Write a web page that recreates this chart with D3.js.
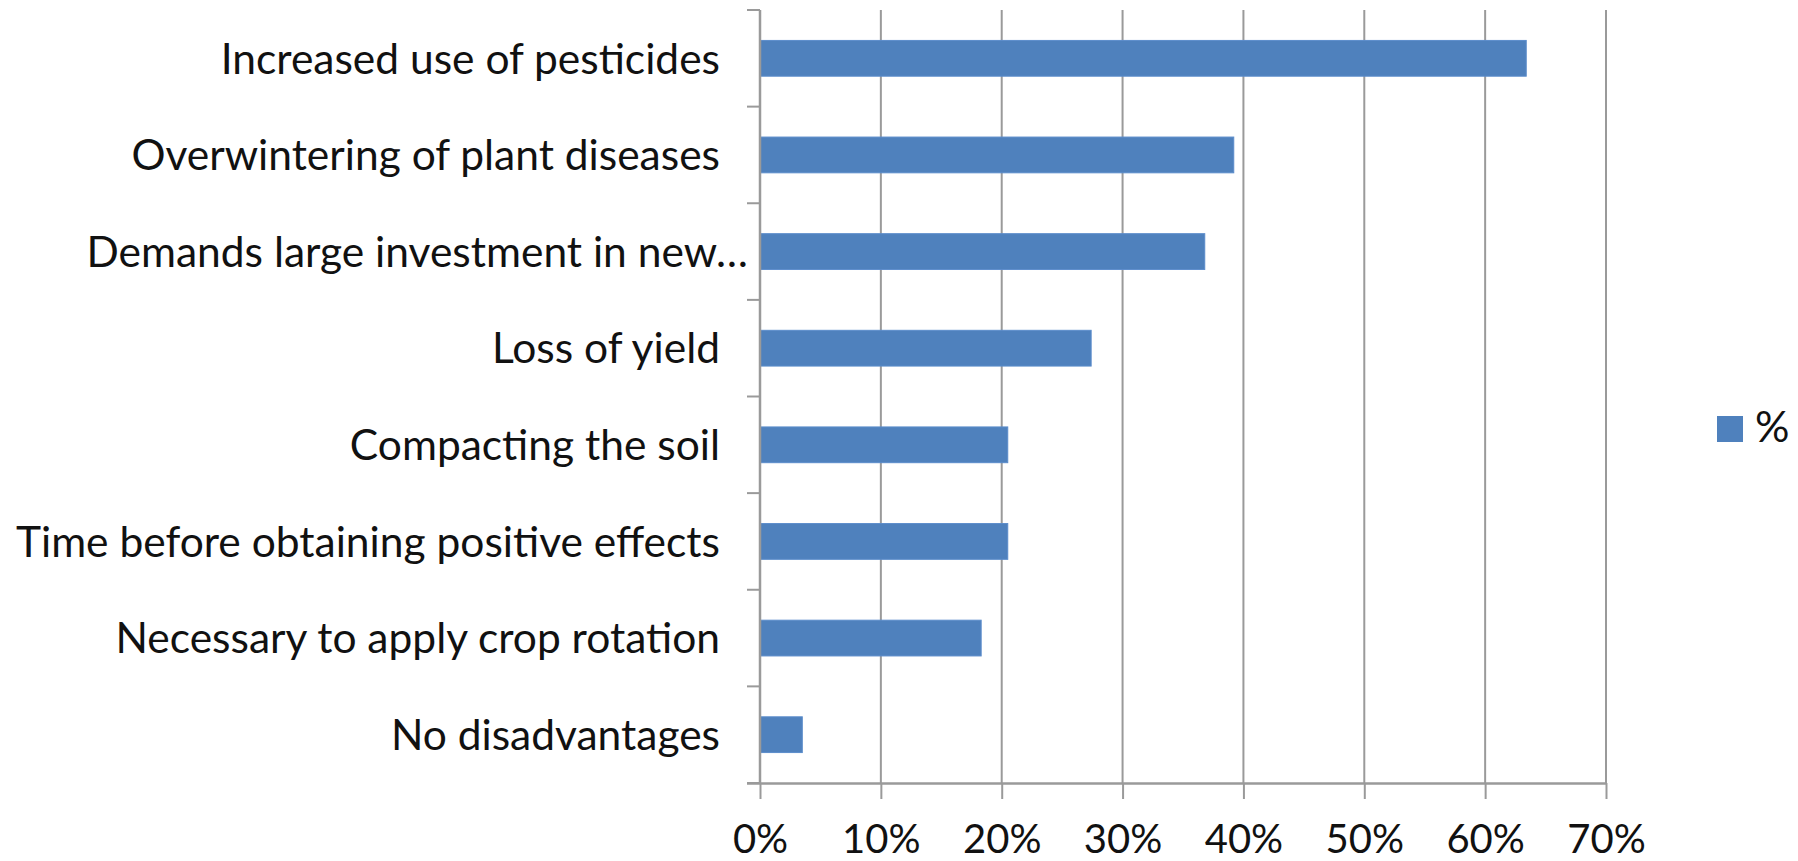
<!DOCTYPE html>
<html>
<head>
<meta charset="utf-8">
<script src="https://cdn.jsdelivr.net/npm/d3@7"></script>
<style>
  html, body { margin: 0; padding: 0; background: #fff; }
  svg { display: block; }
  text { font-family: Lato, "Open Sans", sans-serif; fill: #111; }
</style>
</head>
<body>
<svg id="chart" width="1798" height="861"></svg>
<script>
// Disadvantages reported, share of respondents
const categories = [
  "Increased use of pesticides",
  "Overwintering of plant diseases",
  "Demands large investment in new…",
  "Loss of yield",
  "Compacting the soil",
  "Time before obtaining positive effects",
  "Necessary to apply crop rotation",
  "No disadvantages"
];
const values = [63.4, 39.2, 36.8, 27.4, 20.5, 20.5, 18.3, 3.5];
const xTicks = [0, 10, 20, 30, 40, 50, 60, 70];
const seriesName = "%";

const barColor = "#4f81bd";
const gridColor = "#9a9a9a";

const svg = d3.select("#chart");
const plot = { left: 760, right: 1606, top: 10, bottom: 783 };

const x = d3.scaleLinear().domain([0, 70]).range([plot.left, plot.right]);
const y = d3.scaleBand().domain(categories).range([plot.top, plot.bottom])
  .paddingInner(0.63).paddingOuter(0.315);
const yEdges = d3.scaleLinear().domain([0, categories.length]).range([plot.top, plot.bottom]);

// vertical gridlines
svg.append("g").selectAll("line").data(xTicks.slice(1)).join("line")
  .attr("x1", d => x(d)).attr("x2", d => x(d))
  .attr("y1", plot.top).attr("y2", plot.bottom)
  .attr("stroke", gridColor).attr("stroke-width", 2);

// bars
svg.append("g").selectAll("rect").data(categories).join("rect")
  .attr("x", x(0))
  .attr("y", d => y(d))
  .attr("width", (d, i) => x(values[i]) - x(0))
  .attr("height", y.bandwidth())
  .attr("fill", barColor)
  .attr("stroke", "#5b8ccb").attr("stroke-width", 1);

// x axis
const xAxis = d3.axisBottom(x).tickValues(xTicks).tickFormat(d => d + "%")
  .tickSize(16).tickPadding(26);
const gx = svg.append("g").attr("transform", `translate(0,${plot.bottom})`).call(xAxis);
gx.select(".domain").attr("stroke", gridColor).attr("stroke-width", 2.5)
  .attr("d", `M${plot.left - 13},0.5H${plot.right}`);
gx.selectAll(".tick line").attr("stroke", gridColor).attr("stroke-width", 2);
gx.selectAll(".tick text").attr("font-size", 40).attr("font-family", "Lato, sans-serif")
  .attr("fill", "#111");

// y axis line and ticks at category boundaries
svg.append("line")
  .attr("x1", plot.left).attr("x2", plot.left)
  .attr("y1", plot.top).attr("y2", plot.bottom)
  .attr("stroke", gridColor).attr("stroke-width", 2.5);
svg.append("g").selectAll("line").data(d3.range(categories.length + 1)).join("line")
  .attr("x1", plot.left - 13).attr("x2", plot.left)
  .attr("y1", d => yEdges(d)).attr("y2", d => yEdges(d))
  .attr("stroke", gridColor).attr("stroke-width", 2);

// category labels
svg.append("g").selectAll("text").data(categories).join("text")
  .attr("x", d => d.endsWith("…") ? plot.left - 12 : plot.left - 40)
  .attr("y", d => y(d) + y.bandwidth() / 2)
  .attr("dy", "0.36em")
  .attr("text-anchor", "end")
  .attr("font-size", 42.5)
  .text(d => d);

// legend
const legend = svg.append("g").attr("transform", "translate(1717,416)");
legend.append("rect").attr("width", 26).attr("height", 26).attr("fill", barColor);
legend.append("text").attr("x", 38).attr("y", 26).attr("font-size", 43).text(seriesName);
</script>
</body>
</html>
